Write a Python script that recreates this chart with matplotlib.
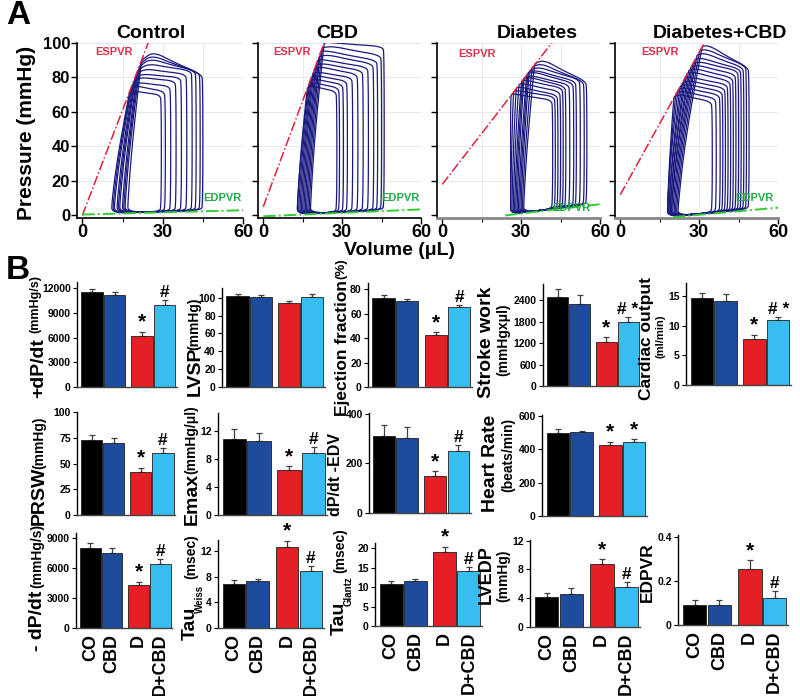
import numpy as np
import matplotlib
matplotlib.use('Agg')
import matplotlib.pyplot as plt

plt.rcParams['font.family'] = ['Liberation Sans', 'DejaVu Sans']
plt.rcParams['font.weight'] = 'bold'

W, H = 800, 696

# ---------------- panel A: PV loops ----------------
ctrl_edv = [45, 44, 42.5, 41, 39, 37, 35, 33, 31, 29.5]
ctrl_esv = [22, 21.5, 21, 20.5, 20, 19.5, 19, 18.5, 18, 17.5]
ctrl_pes = [89, 87, 85, 83, 81, 79, 77, 75, 73, 71]
ctrl_ppeak = [95, 93, 91, 88, 85, 82, 80, 77, 75, 72]
ctrl_pright = [82, 83, 84, 84, 82, 80, 78, 75, 72, 70]
ctrl_vbl = [17, 16, 15.5, 15, 14, 13.5, 13, 12, 11.5, 11]
ctrl_espvr = [0, 4.07]          # intercept, slope
ctrl_edpvr_v = [0, 60]
ctrl_edpvr_p = [0.5, 3.0]

cbd_edv = [46, 45, 43.5, 42, 40, 38, 36, 34, 32, 30.5, 29, 28]
cbd_esv = [23, 22.3, 21.6, 21, 20.4, 19.8, 19.2, 18.6, 18.1, 17.6, 17.1, 16.6]
cbd_pes = [99, 96, 94, 91, 89, 86, 84, 81, 79, 77, 75, 73]
cbd_ppeak = [100, 98, 95, 93, 90, 88, 86, 83, 81, 79, 77, 75]
cbd_pright = [98, 93, 90, 88, 86, 84, 82, 80, 78, 76, 74, 72]
cbd_vbl = [18, 17.5, 17, 16.5, 16, 15.5, 15, 14.5, 14, 13.5, 13, 13]
cbd_espvr = [5, 4.1]
cbd_edpvr_v = [0, 60]
cbd_edpvr_p = [-0.5, 3.5]

dia_edv = [55, 54, 52.5, 51, 50, 48.5, 47, 46, 45, 44, 43, 42]
dia_esv = [35, 34, 33, 32.5, 32, 31, 30.5, 30, 29, 28, 27, 26]
dia_pes = [87, 85, 83, 82, 81, 79, 78, 77, 75, 73, 71, 69]
dia_ppeak = [90, 88, 86, 84, 83, 81, 80, 78, 76, 74, 72, 70]
dia_pright = [78, 78, 79, 78, 77, 76, 75, 74, 72, 70, 69, 67]
dia_vbl = [31, 30.5, 30, 29.5, 29, 28.5, 28, 27.5, 27, 26.5, 26, 26]
dia_espvr = [18, 1.97]
dia_edpvr_v = [24, 60]
dia_edpvr_p = [0, 6.5]

dcbd_edv = [49, 48, 47, 46, 45, 44, 43, 42, 41, 40, 39, 38, 36.5, 35]
dcbd_esv = [31, 30, 29, 28.2, 27.4, 26.6, 25.8, 25, 24.2, 23.4, 22.6, 21.8, 21, 20.3]
dcbd_pes = [97, 94.5, 92, 89.5, 87, 85, 83, 81, 78.5, 76, 74, 72, 70, 68]
dcbd_ppeak = [98, 96, 94, 91, 89, 87, 85, 83, 80, 78, 76, 74, 72, 70]
dcbd_pright = [86, 87, 86, 85, 84, 82, 80, 78, 76, 74, 72, 70, 68, 66]
dcbd_vbl = [22, 21.5, 21, 20.5, 20, 19.5, 19.5, 19, 19, 18.5, 18.5, 18, 18, 18]
dcbd_espvr = [12, 2.75]
dcbd_edpvr_v = [20, 60]
dcbd_edpvr_p = [-1, 4.5]

pv_titles = ['Control', 'CBD', 'Diabetes', 'Diabetes+CBD']

# ---------------- panel B: bar values (mean, SEM) ----------------
groups = ['CO', 'CBD', 'D', 'D+CBD']
dpdt_max = [11550, 11200, 6250, 9900]
dpdt_max_sem = [330, 300, 450, 700]
lvsp = [102, 101, 94.5, 101]
lvsp_sem = [2.5, 2.5, 2, 2.8]
ejection_fraction = [72.4, 70.5, 42.2, 65.3]
ejection_fraction_sem = [2.5, 1.5, 2.8, 2]
stroke_work = [2500, 2300, 1240, 1790]
stroke_work_sem = [200, 240, 130, 130]
cardiac_output = [14.7, 14.2, 7.7, 10.9]
cardiac_output_sem = [0.85, 1.1, 0.8, 0.6]
prsw = [72.5, 70, 41.5, 60.5]
prsw_sem = [5, 5, 4.5, 4.5]
emax = [10.9, 10.6, 6.5, 8.9]
emax_sem = [1.4, 1.1, 0.45, 0.85]
dpdt_edv = [310, 302, 148, 251]
dpdt_edv_sem = [45, 45, 20, 24]
heart_rate = [496, 502, 426, 442]
heart_rate_sem = [24, 6, 20, 20]
dpdt_min = [8000, 7500, 4330, 6430]
dpdt_min_sem = [500, 550, 330, 500]
tau_weiss = [6.9, 7.3, 12.7, 9.0]
tau_weiss_sem = [0.6, 0.35, 1.0, 0.7]
tau_glantz = [10.7, 11.6, 18.9, 14.2]
tau_glantz_sem = [0.85, 0.5, 1.5, 0.85]
lvedp = [4.2, 4.65, 8.7, 5.5]
lvedp_sem = [0.55, 0.75, 0.7, 0.75]
edpvr = [0.09, 0.09, 0.255, 0.125]
edpvr_sem = [0.022, 0.022, 0.04, 0.03]

bar_colors = ['#000000', '#1e4b9b', '#e41f26', '#38bdf0']
bar_pos = [0, 1.05, 2.33, 3.38]


def px_rect(x0, x1, ytop, ybot):
    return [x0 / W, 1 - ybot / H, (x1 - x0) / W, (ybot - ytop) / H]


def ftext(fig, x, y, s, **kw):
    kw.setdefault('ha', 'center')
    kw.setdefault('va', 'center')
    fig.text(x / W, 1 - y / H, s, **kw)


def chaikin(pts, n):
    pts = np.asarray(pts, float)
    for _ in range(n):
        nxt = np.roll(pts, -1, axis=0)
        q = 0.75 * pts + 0.25 * nxt
        r = 0.25 * pts + 0.75 * nxt
        pts = np.empty((2 * len(q), 2))
        pts[0::2] = q
        pts[1::2] = r
    return np.vstack([pts, pts[:1]])


def loop_outline(edv, esv, pes, ppeak, pright, vbl, edp_l, edp_r):
    pts = [
        (vbl, edp_l),
        (0.5 * (vbl + edv), 0.5 * (edp_l + edp_r)),
        (edv - 0.8, edp_r),
        (edv, edp_r + 3),
        (edv, pright - 4),
        (edv - 0.6, pright),
        (esv + 0.55 * (edv - esv), 0.5 * (pright + ppeak)),
        (esv + 0.2 * (edv - esv), ppeak),
        (esv + 0.5, pes + 1.5),
        (esv, pes),
        (vbl + 0.3 * (esv - vbl), 0.45 * pes),
        (vbl, edp_l + 6),
    ]
    return chaikin(pts, 3)


fig = plt.figure(figsize=(8, 6.96), dpi=100)

pv_sets = [
    (ctrl_edv, ctrl_esv, ctrl_pes, ctrl_ppeak, ctrl_pright, ctrl_vbl, ctrl_espvr, ctrl_edpvr_v, ctrl_edpvr_p),
    (cbd_edv, cbd_esv, cbd_pes, cbd_ppeak, cbd_pright, cbd_vbl, cbd_espvr, cbd_edpvr_v, cbd_edpvr_p),
    (dia_edv, dia_esv, dia_pes, dia_ppeak, dia_pright, dia_vbl, dia_espvr, dia_edpvr_v, dia_edpvr_p),
    (dcbd_edv, dcbd_esv, dcbd_pes, dcbd_ppeak, dcbd_pright, dcbd_vbl, dcbd_espvr, dcbd_edpvr_v, dcbd_edpvr_p),
]
pv_x = [(77, 243), (258, 421), (437, 600), (615, 778)]
title_x = [151, 337, 537, 720]
esp_lab = [(114, 52), (292, 52), (477, 54), (660, 52)]
edp_lab = [(222, 198), (400, 198), (571, 208), (754, 198)]

for k, (edv, esv, pes, ppk, prt, vbl, esp, edv_v, edv_p) in enumerate(pv_sets):
    x0, x1 = pv_x[k]
    ax = fig.add_axes(px_rect(x0, x1, 43, 218))
    ax.set_xlim(-2, 60)
    ax.set_ylim(-1.5, 100)
    for g in [15, 30, 45, 60]:
        ax.axvline(g, color='#e8e8e8', lw=0.7, zorder=0)
    for g in [20, 40, 60, 80, 100]:
        ax.axhline(g, color='#e8e8e8', lw=0.7, zorder=0)
    for i in range(len(edv)):
        el = np.interp(vbl[i], edv_v, edv_p) + 0.5
        er = np.interp(edv[i], edv_v, edv_p) + 0.5
        xy = loop_outline(edv[i], esv[i], pes[i], ppk[i], prt[i], vbl[i], el, er)
        ax.plot(xy[:, 0], xy[:, 1], color='#1a1a80', lw=0.9, zorder=2)
    ax.plot([0, 60], [esp[0], esp[0] + esp[1] * 60], color='#e0203a', lw=1.1,
            ls='-.', zorder=3)
    ax.plot(edv_v, edv_p, color='#33cc33', lw=1.4, ls='-.', zorder=3)
    for s in ['top', 'right']:
        ax.spines[s].set_visible(False)
    ax.spines['left'].set_linewidth(1.2)
    if k >= 2:
        ax.spines['bottom'].set_color('#888888')
        ax.spines['bottom'].set_linewidth(2)
    else:
        ax.spines['bottom'].set_linewidth(1.2)
    ax.set_xticks([0, 30, 60])
    ax.set_xticks([15, 45], minor=True)
    ax.set_yticks([0, 20, 40, 60, 80, 100])
    ax.tick_params(axis='x', labelsize=13, length=4, width=1, pad=0.5)
    ax.tick_params(axis='x', which='minor', length=3, width=0.8)
    ax.tick_params(axis='y', labelsize=12, length=4, width=1, pad=1)
    if k > 0:
        ax.set_yticklabels([])
    ftext(fig, title_x[k], 34, pv_titles[k], fontsize=14)
    ftext(fig, esp_lab[k][0], esp_lab[k][1], 'ESPVR', fontsize=8, color='#e0304a')
    ftext(fig, edp_lab[k][0], edp_lab[k][1], 'EDPVR', fontsize=8, color='#22aa44')

ftext(fig, 18, 16, 'A', fontsize=24)
ftext(fig, 18, 270, 'B', fontsize=24)
ftext(fig, 27, 133, 'Pressure (mmHg)', fontsize=15, rotation=90)
ftext(fig, 400, 250.5, 'Volume (\u03bcL)', fontsize=14)

# ---------------- panel B bar charts ----------------
bar_specs = [
    # values, sem, x0, x1, ytop, ybot, ymax, ticks, marks, xlabels, labels
    (dpdt_max, dpdt_max_sem, 77, 177, 282, 387, 12750, [0, 3000, 6000, 9000, 12000],
     [(2, '*'), (3, '#')], False,
     [('+dP/dt', 39, 368, 14), ('(mmHg/s)', 35, 304, 9)]),
    (lvsp, lvsp_sem, 222, 325, 288, 387, 111, [0, 20, 40, 60, 80, 100],
     [], False,
     [('LVSP', 195, 371, 14), ('(mmHg)', 194, 324, 10)]),
    (ejection_fraction, ejection_fraction_sem, 368, 472, 283, 387, 85, [0, 20, 40, 60, 80],
     [(2, '*'), (3, '#')], False,
     [('Ejection fraction', 342, 348, 12.5), ('(%)', 341, 269, 9.5)]),
    (stroke_work, stroke_work_sem, 543, 640, 284, 386, 2850, [0, 600, 1200, 1800, 2400],
     [(2, '*'), (3, '# *')], False,
     [('Stroke work', 486, 342, 14), ('(mmHgx\u03bcl)', 503, 340, 10)]),
    (cardiac_output, cardiac_output_sem, 686, 791, 283, 385, 17.2, [0, 5, 10, 15],
     [(2, '*'), (3, '# *')], False,
     [('Cardiac output', 646, 339, 12.5), ('(ml/min)', 661, 336, 8)]),
    (prsw, prsw_sem, 77, 175, 412, 515, 100, [0, 25, 50, 75, 100],
     [(2, '*'), (3, '#')], False,
     [('PRSW', 39, 496, 14), ('(mmHg)', 39, 443, 10)]),
    (emax, emax_sem, 218, 327, 413, 515, 14.6, [0, 4, 8, 12],
     [(2, '*'), (3, '#')], False,
     [('Emax', 192, 499, 14), ('(mmHg/\u03bcl)', 191, 440, 10)]),
    (dpdt_edv, dpdt_edv_sem, 369, 471, 413, 513, 404, [0, 200, 400],
     [(2, '*'), (3, '#')], False,
     [('dP/dt -EDV', 336, 474, 11.5)]),
    (heart_rate, heart_rate_sem, 542, 647, 415, 516, 606, [0, 200, 400, 600],
     [(2, '*'), (3, '*')], False,
     [('Heart Rate', 490, 463, 14), ('(beats/min)', 508, 455, 10)]),
    (dpdt_min, dpdt_min_sem, 76, 172, 533, 628, 9530, [0, 3000, 6000, 9000],
     [(2, '*'), (3, '#')], True,
     [('- dP/dt', 38, 621, 14), ('(mmHg/s)', 37, 556, 10)]),
    (tau_weiss, tau_weiss_sem, 218, 324, 540, 628, 13.8, [0, 4, 8, 12],
     [(2, '*'), (3, '#')], True,
     [('Tau', 190, 623, 14), ('Weiss', 200, 599, 7), ('(msec)', 191, 557, 10)]),
    (tau_glantz, tau_glantz_sem, 375, 482, 543, 626, 21.3, [0, 5, 10, 15, 20],
     [(2, '*'), (3, '#')], True,
     [('Tau', 339, 618, 14), ('Glantz', 349, 591, 7), ('(msec)', 340, 551, 10)]),
    (lvedp, lvedp_sem, 530, 640, 540, 627, 12.1, [0, 4, 8, 12],
     [(2, '*'), (3, '#')], True,
     [('LVEDP', 486, 575, 13), ('(mmHg)', 503, 576, 10)]),
    (edpvr, edpvr_sem, 678, 788, 535, 625, 0.41, [0, 0.2, 0.4],
     [(2, '*'), (3, '#')], True,
     [('EDPVR', 647, 572, 12.5)]),
]

for vals, sem, x0, x1, yt, yb, ymax, ticks, marks, xlab, labels in bar_specs:
    ax = fig.add_axes(px_rect(x0, x1, yt, yb))
    ax.bar(bar_pos, vals, width=1.0, color=bar_colors, edgecolor='#202020',
           linewidth=0.6, zorder=2)
    ax.errorbar(bar_pos, vals, yerr=[np.zeros(4), sem], fmt='none', ecolor='#404040',
                elinewidth=0.9, capsize=2.5, capthick=0.9, zorder=1)
    ax.set_xlim(-0.7, 3.95)
    ax.set_ylim(0, ymax)
    ax.set_yticks(ticks)
    ax.set_yticklabels([('%g' % t) for t in ticks])
    ax.tick_params(axis='y', labelsize=7.5, length=3, width=0.8, pad=1.5)
    for s in ['top', 'right']:
        ax.spines[s].set_visible(False)
    ax.spines['left'].set_linewidth(1.0)
    ax.spines['bottom'].set_color('#444444')
    ax.spines['bottom'].set_linewidth(1.0)
    if xlab:
        ax.set_xticks(bar_pos)
        ax.set_xticklabels(groups, rotation=90, fontsize=13)
        ax.tick_params(axis='x', length=0, pad=4)
    else:
        ax.set_xticks([])
    for i, m in marks:
        ax.annotate(m, (bar_pos[i], vals[i] + sem[i]), xytext=(0, 0),
                    textcoords='offset points', ha='center', va='bottom',
                    fontsize=15 if m == '*' else 12.5, annotation_clip=False)
    for s, x, y, fs in labels:
        ftext(fig, x, y, s, fontsize=fs, rotation=90)

fig.savefig('out.png', dpi=100)
